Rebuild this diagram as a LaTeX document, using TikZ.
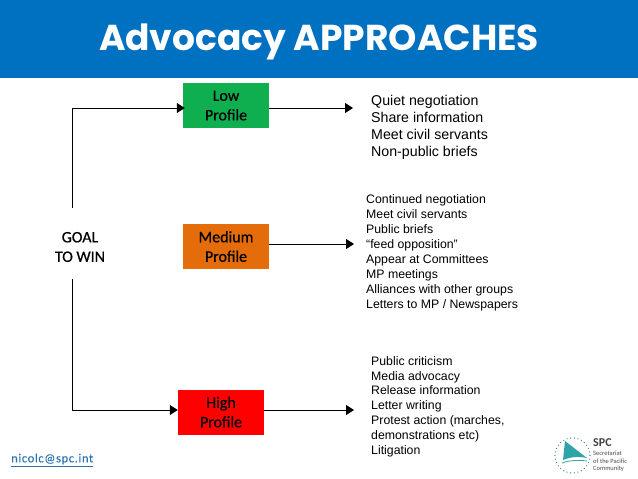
\documentclass[tikz,border=0pt]{standalone}
\usepackage{fontspec}
\setmainfont{Liberation Sans}
\newfontfamily\titlefont{Poppins}
\newfontfamily\boxfont[FakeBold=0.6]{Carlito}
\newfontfamily\logofont{Carlito}
\newfontfamily\mailfont[LetterSpace=5,FakeBold=0.2]{Carlito}
\usetikzlibrary{arrows.meta,positioning}
\definecolor{headerblue}{HTML}{0070C0}
\definecolor{lowgreen}{HTML}{0FAF50}
\definecolor{mediumorange}{HTML}{E46C0A}
\definecolor{highred}{HTML}{FF0000}
\definecolor{mailblue}{HTML}{2A74B0}
\definecolor{logoteal}{HTML}{2FA3A8}
\tikzset
{
  profilebox/.style = {draw=none, align=center, minimum width=86pt, minimum height=45pt, inner sep=0pt, font=\boxfont\fontsize{16}{19.5}\selectfont},
  approaches/.style = {anchor=north west, align=left, inner sep=0pt},
  conn/.style = {-{Triangle[length=8pt,width=10pt]}, line width=1pt, black}
}

\begin{document}
\begin{tikzpicture}[x=1pt,y=-1pt]
            \useasboundingbox (0,0) rectangle (638,479);
            \fill [headerblue] (0,0) rectangle (638,78);
            \node (title) at (319,42) [text=white, inner sep=0pt, font=\titlefont\fontsize{36}{40}\selectfont\bfseries] {Advocacy APPROACHES};
            % the three boxes
            \node (low) at (226,105.5) [profilebox, fill=lowgreen] {Low\\Profile};
            \node (medium) at (226,246.5) [profilebox, fill=mediumorange] {Medium\\Profile};
            \node (high) at (221,412) [profilebox, fill=highred] {High\\Profile};
            \node (goal) at (80,247) [align=center, inner sep=0pt, minimum height=78pt, font=\boxfont\fontsize{16}{19.5}\selectfont] {GOAL\\TO WIN};
            \node (lowtext) at (371,95.5) [approaches, font=\fontsize{14.2}{17}\selectfont] {Quiet negotiation\\Share information\\Meet civil servants\\Non-public briefs};
            \node (mediumtext) at (366,194) [approaches, font=\fontsize{12.3}{15}\selectfont] {Continued negotiation\\Meet civil servants\\Public briefs\\“feed opposition”\\Appear at Committees\\MP meetings\\Alliances with other groups\\Letters to MP / Newspapers};
            \node (hightext) at (371,356) [approaches, font=\fontsize{12.3}{14.9}\selectfont] {Public criticism\\Media advocacy\\Release information\\Letter writing\\Protest action (marches,\\demonstrations etc)\\Litigation};
            \node (mail) at (11,460) [anchor=west, inner sep=0pt, text=mailblue, font=\mailfont\fontsize{12.5}{16}\selectfont] {\underline{nicolc@spc.int}};
            % connectors
            \coordinate (lowcorner) at (72,108);
            \coordinate (highcorner) at (72,410);
            \coordinate (lowend) at (353,108);
            \coordinate (mediumend) at (354,244);
            \coordinate (highend) at (354,410);
            \draw [conn] (lowcorner |- goal.north) -- (lowcorner) -- ([xshift=2pt]lowcorner -| low.west);
            \draw [conn] ([yshift=7pt]highcorner |- goal.south) -- (highcorner) -- (highcorner -| high.west);
            \draw [conn] (lowend -| low.east) -- (lowend);
            \draw [conn] (mediumend -| medium.east) -- (mediumend);
            \draw [conn] (highend -| high.east) -- (highend);
            % logo
            \foreach \a in {0,12,...,348}
              \fill [logoteal!70!black] (572.5,455.5) ++(\a:17.5) circle (0.6);
            \fill [logoteal] (565,441) -- (587,458) .. controls (578,456) and (570,457) .. (563,460) -- cycle;
            \draw [logoteal, line width=0.8pt] (562,463) .. controls (570,460) and (580,460) .. (587,461);
            \node (spc) at (593,443) [anchor=west, inner sep=0pt, text=black!75, font=\logofont\fontsize{12}{12}\selectfont\bfseries] {SPC};
            \node (spcname) at (593,461.5) [anchor=west, align=left, inner sep=0pt, text=black!70, font=\logofont\fontsize{6.5}{7.7}\selectfont] {Secretariat\\of the Pacific\\Community};
          \end{tikzpicture}
\end{document}
